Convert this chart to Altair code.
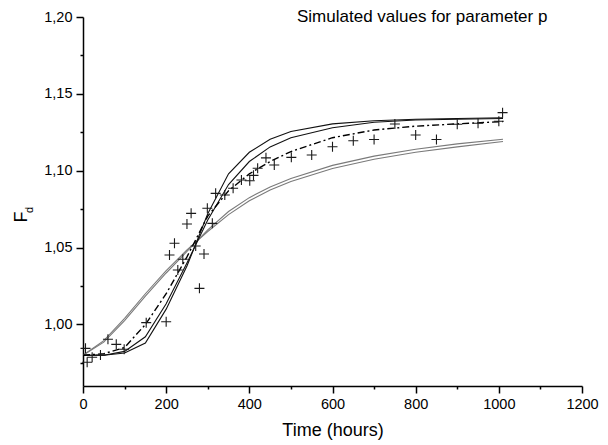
import altair as alt
import pandas as pd

# simulation time grid (hours)
t_sim = [0, 50, 100, 150, 200, 250, 300, 350, 400, 450, 500, 600, 700, 800, 900, 1010]
# simulated curves (F_d)
sim_gray_1 = [0.980, 0.9885, 1.0025, 1.0185, 1.0335, 1.0475, 1.0615, 1.0735, 1.0825, 1.0895, 1.095, 1.1035, 1.1095, 1.114, 1.1175, 1.1205]
sim_gray_2 = [0.980, 0.9895, 1.004, 1.020, 1.035, 1.0485, 1.0605, 1.0715, 1.0805, 1.0875, 1.093, 1.1015, 1.1075, 1.112, 1.1155, 1.119]
sim_black_1 = [0.980, 0.980, 0.9815, 0.988, 1.010, 1.038, 1.072, 1.098, 1.112, 1.1205, 1.1255, 1.1305, 1.1325, 1.1335, 1.134, 1.1345]
sim_black_2 = [0.980, 0.980, 0.9825, 0.992, 1.0135, 1.040, 1.068, 1.091, 1.106, 1.1155, 1.1215, 1.128, 1.1315, 1.133, 1.1335, 1.134]
sim_dashdot = [0.980, 0.981, 0.985, 1.000, 1.020, 1.044, 1.0705, 1.087, 1.098, 1.106, 1.1125, 1.1215, 1.1265, 1.129, 1.1305, 1.132]

# measured values
obs_t = [6, 10, 22, 42, 60, 80, 99, 152, 200, 208, 220, 228, 240, 250, 260, 271, 280, 291, 299, 311, 319,
         341, 361, 381, 401, 410, 420, 440, 460, 501, 550, 600, 650, 700, 750, 800, 850, 900, 950, 1000, 1009]
obs_f = [0.9845, 0.9754, 0.9787, 0.9802, 0.9904, 0.9871, 0.9839, 1.0012, 1.0018, 1.0452, 1.0528, 1.0354,
         1.0424, 1.0654, 1.0723, 1.0511, 1.0235, 1.0459, 1.0756, 1.0658, 1.0853, 1.0842, 1.0886, 1.094,
         1.0935, 1.097, 1.1016, 1.1084, 1.1037, 1.1087, 1.1102, 1.1156, 1.1195, 1.1203, 1.1304, 1.1233,
         1.1203, 1.1302, 1.1309, 1.1322, 1.1378]

x_ticks = list(range(0, 1201, 100))
y_ticks = [0.975, 1.0, 1.025, 1.05, 1.075, 1.1, 1.125, 1.15, 1.175, 1.2]

FONT = "Liberation Sans"

x_scale = alt.Scale(domain=[0, 1200], nice=False, zero=False)
y_scale = alt.Scale(domain=[0.96, 1.20], nice=False, zero=False)

x_axis = alt.Axis(
    values=x_ticks,
    labelExpr="datum.value % 200 == 0 ? format(datum.value, 'd') : ''",
    tickSize={"condition": {"test": "datum.value % 200 == 0", "value": 7}, "value": 3},
    title="Time (hours)", titleFont=FONT, titleFontSize=18, titleFontWeight="normal",
    titleColor="black", titlePadding=11,
    labelFont=FONT, labelFontSize=14.5, labelColor="black", labelPadding=4,
    domainColor="black", domainWidth=1.5, tickColor="black", tickWidth=1.5, grid=False,
    labelFlush=False, labelOverlap=False,
)
y_axis = alt.Axis(
    values=y_ticks,
    labelExpr="abs(datum.value*20 - round(datum.value*20)) < 0.001 ? replace(format(datum.value, '.2f'), '.', ',') : ''",
    tickSize={"condition": {"test": "abs(datum.value*20 - round(datum.value*20)) < 0.001", "value": 7}, "value": 3},
    title=None,
    labelFont=FONT, labelFontSize=14.5, labelColor="black", labelPadding=4,
    domainColor="black", domainWidth=1.5, tickColor="black", tickWidth=1.5, grid=False,
    labelFlush=False, labelOverlap=False,
)

sim = pd.DataFrame({
    "t": t_sim * 5,
    "f": sim_gray_1 + sim_gray_2 + sim_black_1 + sim_black_2 + sim_dashdot,
    "s": ["g1"] * len(t_sim) + ["g2"] * len(t_sim) + ["b1"] * len(t_sim) + ["b2"] * len(t_sim) + ["dd"] * len(t_sim),
})
obs = pd.DataFrame({"t": obs_t, "f": obs_f})

X = alt.X("t:Q", scale=x_scale, axis=x_axis)
Y = alt.Y("f:Q", scale=y_scale, axis=y_axis)

def line(name, color, width, dash=None):
    kw = dict(color=color, strokeWidth=width, clip=True)
    if dash:
        kw["strokeDash"] = dash
    return alt.Chart(sim).transform_filter(alt.datum.s == name).mark_line(**kw).encode(x=X, y=Y)

layers = [
    line("g1", "#7a7a7a", 1.1),
    line("g2", "#7a7a7a", 1.1),
    line("b1", "#111111", 1.1),
    line("b2", "#111111", 1.1),
    line("dd", "#000000", 1.4, [7, 3, 2, 3]),
    alt.Chart(obs).mark_point(shape="M-1,0L1,0M0,-1L0,1", size=100, filled=False,
                              color="#1a1a1a", strokeWidth=1.1, opacity=1).encode(x=X, y=Y),
]

title_df = pd.DataFrame({"txt": ["Simulated values for parameter p"]})
title = alt.Chart(title_df).mark_text(font=FONT, fontSize=17, align="left", baseline="middle",
                                      color="black").encode(
    text="txt:N", x=alt.value(214), y=alt.value(0))

fy_df = pd.DataFrame({"txt": ["F"]})
fy = alt.Chart(fy_df).mark_text(font=FONT, fontSize=18, angle=270, align="center",
                                baseline="alphabetic", color="black").encode(
    text="txt:N", x=alt.value(-56), y=alt.value(200))
dy_df = pd.DataFrame({"txt": ["d"]})
dy = alt.Chart(dy_df).mark_text(font=FONT, fontSize=11, angle=270, align="center",
                                baseline="alphabetic", color="black").encode(
    text="txt:N", x=alt.value(-50), y=alt.value(193))

chart = alt.layer(*layers, title, fy, dy).properties(
    width=499, height=369,
    padding={"left": 75, "top": 9, "right": 18, "bottom": 57},
    autosize=alt.AutoSizeParams(type="none"),
    background="white",
).configure_view(stroke=None)

chart.save("out.html", embed_options={"renderer": "svg", "actions": False})
